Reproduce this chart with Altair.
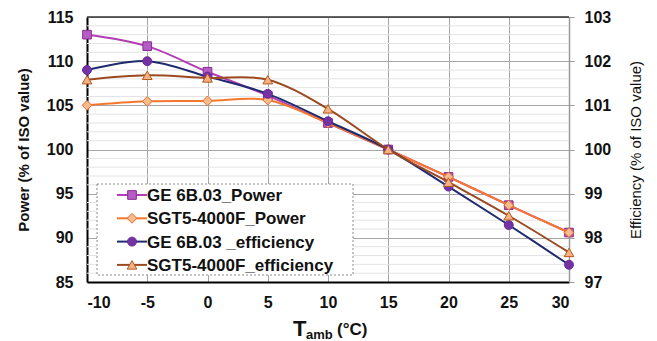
import altair as alt
import pandas as pd

# Ambient temperature (°C)
temps = [-10, -5, 0, 5, 10, 15, 20, 25, 30]

# Power output, % of ISO value (left axis)
ge_power = [113.0, 111.7, 108.8, 106.1, 103.0, 100.0, 96.9, 93.7, 90.6]
sgt_power = [105.0, 105.45, 105.5, 105.6, 103.0, 100.0, 96.9, 93.7, 90.6]

# Efficiency, % of ISO value (right axis)
ge_eff = [101.8, 102.0, 101.65, 101.26, 100.64, 100.0, 99.16, 98.29, 97.39]
sgt_eff = [101.58, 101.68, 101.62, 101.58, 100.92, 100.0, 99.26, 98.5, 97.67]

series_names = [
    "GE 6B.03_Power",
    "SGT5-4000F_Power",
    "GE 6B.03 _efficiency",
    "SGT5-4000F_efficiency",
]

power_ticks = [85, 90, 95, 100, 105, 110, 115]
eff_ticks = [97, 98, 99, 100, 101, 102, 103]
temp_ticks = [-10, -5, 0, 5, 10, 15, 20, 25, 30]

df = pd.DataFrame({
    "T": temps,
    "ge_power": ge_power,
    "sgt_power": sgt_power,
    "ge_eff": ge_eff,
    "sgt_eff": sgt_eff,
})

W, H = 482, 265
FONT = "Liberation Sans"
INK = "#111111"

# column, axis side, line colour, marker shape, marker fill, marker stroke, marker size
styles = [
    ("ge_power", "left", "#B23DB4", "square", "#B65CC6", "#8A2C90", 75),
    ("sgt_power", "left", "#F7762E", "diamond", "#F9BA8C", "#DD6E2C", 95),
    ("ge_eff", "right", "#1F2B6E", "circle", "#7432A4", "#6A2A98", 80),
    ("sgt_eff", "right", "#9A4A1E", "triangle-up", "#F4B183", "#B45A22", 95),
]

# plain hyphen for negative tick labels
plain_label = "'' + datum.value"

x_enc = alt.X(
    "T:Q",
    scale=alt.Scale(domain=[-10, 30], nice=False, zero=False),
    axis=alt.Axis(
        values=temp_ticks, title=None, grid=True, gridColor="#A6A6A6",
        gridWidth=1, domainColor="#000000", domainWidth=2, ticks=False,
        tickSize=0, labelPadding=12, labelFont=FONT, labelFontSize=16,
        labelFontWeight="bold", labelColor=INK, labelExpr=plain_label,
    ),
)

left_axis = alt.Axis(
    values=power_ticks, title="Power (% of ISO value)", grid=True,
    gridColor="#A6A6A6", gridWidth=1, domainColor="#000000", domainWidth=2,
    ticks=False, tickSize=0, labelPadding=14, labelFont=FONT, labelFontSize=16,
    labelFontWeight="bold", labelColor=INK, titleFont=FONT,
    titleFontSize=15, titleFontWeight="bold", titleColor=INK,
    titleAngle=270, titleX=-64, titleY=H / 2, titleAlign="center",
    titleBaseline="middle",
)
right_axis = alt.Axis(
    values=eff_ticks, orient="right", title="Efficiency (% of ISO value)",
    grid=False, domainColor="#9A9A9A", domainWidth=1.5, ticks=True,
    tickColor="#9A9A9A", tickSize=5, labelPadding=10, labelFont=FONT,
    labelFontSize=16, labelFontWeight="bold", labelColor=INK,
    titleFont=FONT, titleFontSize=15, titleFontWeight="normal",
    titleColor=INK, titleAngle=270, titleX=66, titleY=H / 2,
    titleAlign="center", titleBaseline="middle",
)

power_scale = alt.Scale(domain=[85, 115], nice=False, zero=False)
eff_scale = alt.Scale(domain=[97, 103], nice=False, zero=False)

layers = []

# light minor gridlines at every power unit
minor_df = pd.DataFrame({"v": [v for v in range(86, 115) if v % 5]})
layers.append(
    alt.Chart(minor_df).mark_rule(color="#E4E4E4", strokeWidth=1).encode(
        y=alt.Y("v:Q", scale=power_scale, axis=None)
    )
)

first_side = {"left": True, "right": True}
for col, side, lcol, shape, fill, stroke, size in styles:
    scale = power_scale if side == "left" else eff_scale
    if first_side[side]:
        axis = left_axis if side == "left" else right_axis
        first_side[side] = False
    else:
        axis = None
    y_enc = alt.Y(f"{col}:Q", scale=scale, axis=axis)
    line = alt.Chart(df).mark_line(
        color=lcol, strokeWidth=2, interpolate="cardinal"
    ).encode(x=x_enc, y=y_enc)
    pts = alt.Chart(df).mark_point(
        shape=shape, filled=True, fill=fill, stroke=stroke, strokeWidth=1,
        size=size, opacity=1,
    ).encode(x=x_enc, y=alt.Y(f"{col}:Q", scale=scale, axis=None))
    layers += [line, pts]

one = pd.DataFrame({"k": [0]})

# top border of the plot frame
layers.append(
    alt.Chart(one).mark_rule(color="#333333", strokeWidth=1.5).encode(
        x=alt.value(0), x2=alt.value(W), y=alt.value(0)
    )
)

# legend box with dotted border
layers.append(
    alt.Chart(one).mark_rect(
        fill="white", stroke="#8C8C8C", strokeWidth=1, strokeDash=[2, 2]
    ).encode(x=alt.value(10), x2=alt.value(266), y=alt.value(167), y2=alt.value(258))
)

for i, (name, st) in enumerate(zip(series_names, styles)):
    _, _, lcol, shape, fill, stroke, size = st
    ly = 178 + 23.3 * i
    layers.append(
        alt.Chart(one).mark_rule(color=lcol, strokeWidth=2).encode(
            x=alt.value(30), x2=alt.value(60), y=alt.value(ly)
        )
    )
    layers.append(
        alt.Chart(one).mark_point(
            shape=shape, filled=True, fill=fill, stroke=stroke, strokeWidth=1,
            size=size, opacity=1,
        ).encode(x=alt.value(45), y=alt.value(ly))
    )
    layers.append(
        alt.Chart(one).mark_text(
            align="left", baseline="middle", font=FONT, fontSize=17,
            fontWeight="bold", color=INK,
        ).encode(x=alt.value(60), y=alt.value(ly + 1), text=alt.value(name))
    )

# x-axis title: T with subscript "amb"
layers.append(
    alt.Chart(one).mark_text(
        align="left", baseline="alphabetic", font=FONT, fontSize=22,
        fontWeight="bold", color=INK,
    ).encode(x=alt.value(206), y=alt.value(319), text=alt.value("T"))
)
layers.append(
    alt.Chart(one).mark_text(
        align="left", baseline="alphabetic", font=FONT, fontSize=13,
        fontWeight="bold", color=INK,
    ).encode(x=alt.value(219), y=alt.value(322), text=alt.value("amb"))
)
layers.append(
    alt.Chart(one).mark_text(
        align="left", baseline="alphabetic", font=FONT, fontSize=17,
        fontWeight="bold", color=INK,
    ).encode(x=alt.value(250), y=alt.value(318), text=alt.value("(°C)"))
)

chart = (
    alt.layer(*layers)
    .resolve_scale(y="independent")
    .properties(
        width=W,
        height=H,
        padding={"left": 87, "top": 17, "right": 657 - 87 - W, "bottom": 341 - 17 - H},
        autosize=alt.AutoSizeParams(type="none"),
        background="white",
    )
    .configure_view(stroke=None)
)

chart.save("out.html", embed_options={"renderer": "svg", "actions": False})
